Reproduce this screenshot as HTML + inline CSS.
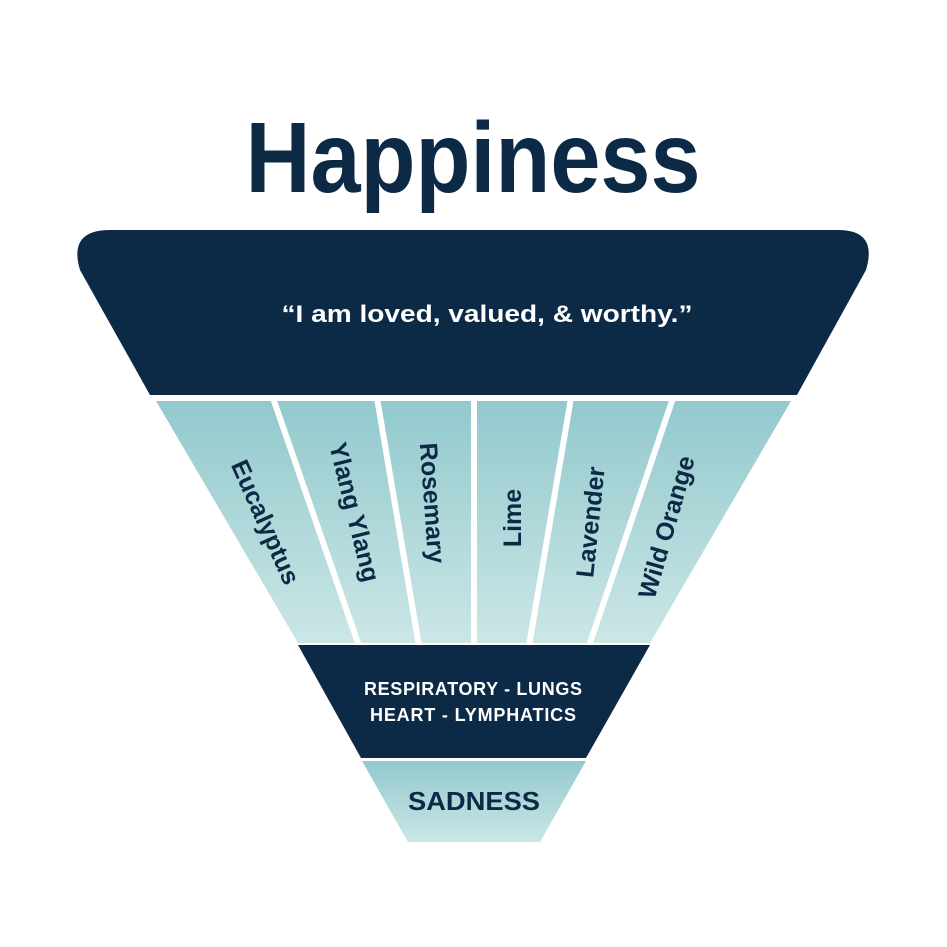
<!DOCTYPE html>
<html><head><style>html,body{margin:0;padding:0;background:#fff}svg{display:block}</style></head>
<body>
<svg width="947" height="947" viewBox="0 0 947 947" xmlns="http://www.w3.org/2000/svg">
<defs>
<linearGradient id="g" x1="0" y1="0" x2="0" y2="1">
<stop offset="0" stop-color="#92c9cd"/><stop offset="1" stop-color="#cbe6e6"/></linearGradient>
<linearGradient id="g2" x1="0" y1="0" x2="0" y2="1">
<stop offset="0" stop-color="#92c9cd"/><stop offset="1" stop-color="#cbe6e6"/></linearGradient>
</defs>
<text x="473" y="192" text-anchor="middle" font-family="Liberation Sans, sans-serif" font-weight="bold" font-size="100" fill="#0c2a45" textLength="455" lengthAdjust="spacingAndGlyphs">Happiness</text>
<path d="M110 230 H838 Q878 230 866 270 L797 395 H150 L80 270 Q68 230 110 230 Z" fill="#0c2a45"/>
<text x="487" y="322" text-anchor="middle" font-family="Liberation Sans, sans-serif" font-weight="bold" font-size="24" fill="#fff" textLength="411" lengthAdjust="spacingAndGlyphs">“I am loved, valued, &amp; worthy.”</text>
<polygon points="156,401 791,401 650,643 298,643" fill="url(#g)"/>
<g stroke="#fff" stroke-width="6">
<line x1="273" y1="398" x2="359" y2="646"/>
<line x1="377" y1="398" x2="419" y2="646"/>
<line x1="474" y1="398" x2="474" y2="646"/>
<line x1="571" y1="398" x2="529" y2="646"/>
<line x1="673" y1="398" x2="589" y2="646"/>
</g>
<polygon points="298,645 650,645 586,758 361,758" fill="#0c2a45"/>
<polygon points="362,761 586,761 540,842 408,842" fill="url(#g2)"/>
<g font-family="Liberation Sans, sans-serif" font-weight="bold" font-size="25" fill="#0c2a45" text-anchor="middle">
<text transform="translate(266,522) rotate(66)" y="9">Eucalyptus</text>
<text transform="translate(355,512) rotate(76)" y="9">Ylang Ylang</text>
<text transform="translate(433,503) rotate(86)" y="9">Rosemary</text>
<text transform="translate(512,518) rotate(-90)" y="9">Lime</text>
<text transform="translate(590,522) rotate(-84)" y="9">Lavender</text>
<text transform="translate(666,527) rotate(-74)" y="9">Wild Orange</text>
</g>
<g font-family="Liberation Sans, sans-serif" font-weight="bold" font-size="18" fill="#fff" text-anchor="middle" lengthAdjust="spacingAndGlyphs">
<text x="473" y="695" textLength="218">RESPIRATORY - LUNGS</text>
<text x="473" y="721" textLength="206">HEART - LYMPHATICS</text>
</g>
<text x="474" y="810" text-anchor="middle" font-family="Liberation Sans, sans-serif" font-weight="bold" font-size="26" fill="#0c2a45" textLength="132" lengthAdjust="spacingAndGlyphs">SADNESS</text>
</svg>
</body></html>
